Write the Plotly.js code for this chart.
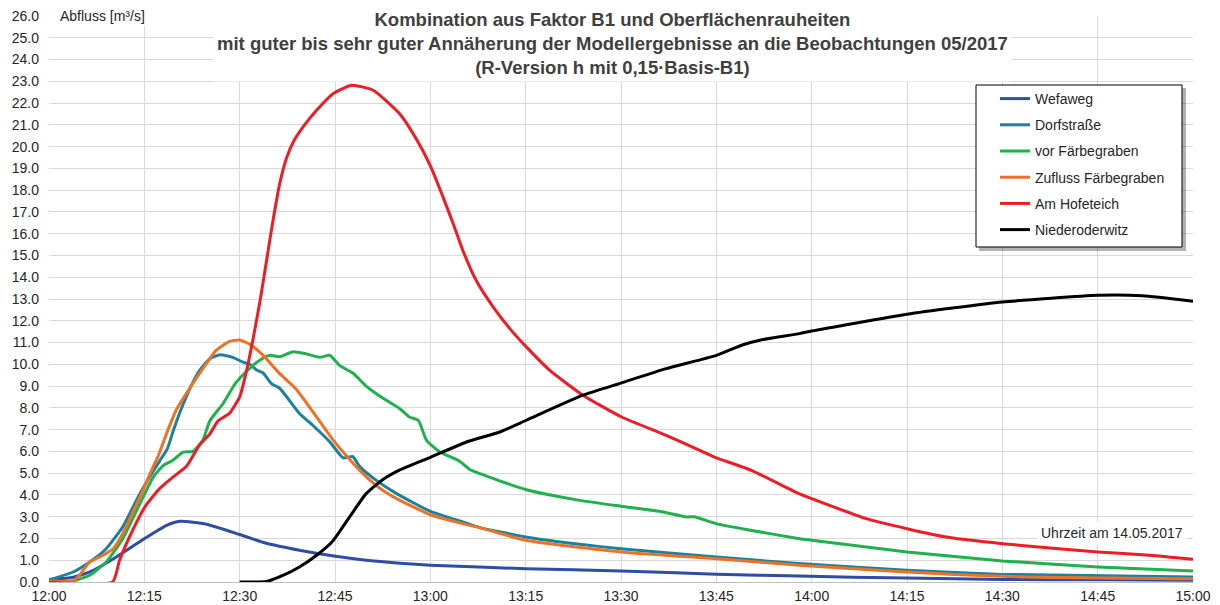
<!DOCTYPE html>
<html>
<head>
<meta charset="utf-8">
<script src="https://cdn.plot.ly/plotly-3.0.1.min.js"></script>
<style>
html,body{margin:0;padding:0;background:#ffffff;}
#chart{width:1220px;height:605px;}
</style>
</head>
<body>
<div id="chart"></div>
<script>
// ---- tick labels (minutes after 12:00) ----
const tickMinutes = [0, 15, 30, 45, 60, 75, 90, 105, 120, 135, 150, 165, 180];
const tickLabels = ["12:00", "12:15", "12:30", "12:45", "13:00", "13:15", "13:30", "13:45", "14:00", "14:15", "14:30", "14:45", "15:00"];

const seriesNames = ["Wefaweg", "Dorfstraße", "vor Färbegraben", "Zufluss Färbegraben", "Am Hofeteich", "Niederoderwitz"];
const seriesColors = ["#2f4ea3", "#1c819a", "#20b04c", "#ed7226", "#ee1c25", "#000000"];

// ---- Wefaweg ----
const wefawegT = [0, 3.8, 6.4, 10.6, 14.8, 18.5, 20.6, 24.8, 30, 34.2, 39.4, 45.1, 49.9, 55.2, 60, 75, 90, 105, 118, 135, 150, 165, 180];
const wefawegQ = [0.1, 0.22, 0.46, 1.15, 1.95, 2.6, 2.79, 2.65, 2.18, 1.78, 1.46, 1.18, 1.0, 0.86, 0.77, 0.61, 0.51, 0.36, 0.27, 0.18, 0.12, 0.1, 0.08];

// ---- Dorfstraße ----
const dorfT = [0, 3.8, 6.4, 9, 11.6, 14.3, 16.4, 17.5, 18.6, 19.5, 20.6, 21.6, 22.1, 23.7, 25.3, 26.9, 29, 30.5, 31.6, 32.6, 33.7, 35, 36.3, 39.4, 41.5, 44.2, 46.3, 47.8, 48.9, 51.5, 54.7, 59.9, 65.1, 67.8, 75, 83.5, 90, 105, 118, 135, 150, 180];
const dorfQ = [0.1, 0.46, 0.92, 1.53, 2.53, 4.06, 5.1, 5.6, 6.1, 6.9, 7.8, 8.5, 8.85, 9.72, 10.26, 10.44, 10.31, 10.1, 10.0, 9.75, 9.6, 9.11, 8.9, 7.74, 7.2, 6.43, 5.7, 5.76, 5.3, 4.67, 4.06, 3.26, 2.76, 2.5, 2.07, 1.73, 1.53, 1.15, 0.85, 0.54, 0.35, 0.23];

// ---- vor Färbegraben ----
const vorT = [0, 3.8, 6.4, 9, 11.6, 14.3, 16.4, 18, 19.5, 21.1, 22.7, 24.2, 25.3, 27.4, 29.3, 31.1, 33.1, 34.7, 36.3, 38.4, 40.5, 42.6, 44.2, 45.7, 47.8, 49.9, 52.5, 55.2, 56.7, 58.1, 59.4, 61.5, 64.6, 66.2, 69.3, 75.1, 78.3, 83.5, 90, 96.6, 100.3, 101.5, 105, 109.7, 118.1, 120, 135, 150, 165, 180];
const vorQ = [0.05, 0.05, 0.31, 0.92, 1.99, 3.6, 4.82, 5.36, 5.59, 5.97, 6.0, 6.51, 7.4, 8.2, 9.11, 9.68, 10.18, 10.41, 10.35, 10.58, 10.48, 10.32, 10.41, 9.95, 9.6, 9.0, 8.45, 7.96, 7.58, 7.43, 6.51, 5.97, 5.55, 5.17, 4.82, 4.24, 4.03, 3.75, 3.48, 3.22, 2.99, 3.0, 2.68, 2.41, 1.99, 1.92, 1.38, 0.97, 0.69, 0.51];

// ---- Zufluss Färbegraben ----
const zuflussT = [0, 3.8, 4.8, 6.4, 8.5, 10.1, 11.6, 14.3, 16.4, 17.2, 18.5, 20, 22.1, 24.2, 26.3, 28.4, 30, 31.6, 33.7, 36.3, 38.9, 42.1, 44.5, 46.8, 49.4, 52, 54.7, 59.9, 65.1, 67.8, 75, 90, 105, 118, 135, 150, 180];
const zuflussQ = [0.05, 0.05, 0.31, 0.92, 1.23, 1.53, 2.22, 3.9, 5.3, 5.8, 6.82, 7.89, 8.88, 9.8, 10.64, 11.05, 11.12, 10.92, 10.41, 9.57, 8.85, 7.58, 6.6, 5.8, 4.98, 4.32, 3.83, 3.1, 2.68, 2.5, 1.92, 1.38, 1.07, 0.77, 0.46, 0.26, 0.15];

// ---- Am Hofeteich ----
const hofT = [0, 10, 11.1, 13.2, 15.2, 17.4, 19.5, 21.6, 23.7, 25.3, 26.6, 28.4, 30, 31, 32, 33.2, 34.3, 35.3, 36.3, 37.4, 38.6, 40.1, 42.1, 44.7, 47.6, 51, 55.2, 57.8, 60.1, 62, 63.6, 65.1, 67.2, 69.9, 72.5, 75.1, 78.8, 84, 90.1, 97.1, 102.4, 105, 106.5, 110.5, 118, 120, 128.6, 135, 141.7, 150, 165, 173.2, 180];
const hofQ = [0, 0, 1.0, 2.4, 3.5, 4.29, 4.82, 5.3, 6.3, 6.8, 7.4, 7.75, 8.5, 9.6, 11.0, 12.9, 14.9, 16.7, 18.3, 19.5, 20.3, 20.95, 21.67, 22.43, 22.82, 22.59, 21.5, 20.35, 19.06, 17.68, 16.46, 15.24, 13.86, 12.63, 11.64, 10.8, 9.72, 8.58, 7.58, 6.74, 6.05, 5.7, 5.55, 5.13, 4.06, 3.83, 2.91, 2.45, 2.04, 1.76, 1.38, 1.23, 1.04];

// ---- Niederoderwitz ----
const niederT = [30, 34.2, 36.8, 39.4, 42.1, 44.7, 47.3, 49.9, 52.5, 55.2, 60.1, 65.7, 70.9, 75.1, 84, 90.1, 97.1, 105, 109.2, 112, 118.1, 120, 135, 150, 165, 172, 180];
const niederQ = [0, 0.02, 0.3, 0.69, 1.23, 1.9, 2.99, 4.06, 4.7, 5.15, 5.74, 6.43, 6.89, 7.43, 8.58, 9.15, 9.8, 10.41, 10.9, 11.12, 11.41, 11.53, 12.3, 12.86, 13.17, 13.15, 12.9];

const seriesT = [wefawegT, dorfT, vorT, zuflussT, hofT, niederT];
const seriesQ = [wefawegQ, dorfQ, vorQ, zuflussQ, hofQ, niederQ];

const traces = seriesNames.map((name, i) => ({
  type: 'scatter',
  mode: 'lines',
  name: name,
  legendgroup: 'g' + i,
  x: seriesT[i],
  y: seriesQ[i],
  line: {color: seriesColors[i], width: 3, shape: 'spline', smoothing: 0.5},
  hoverinfo: 'skip'
}));

// plot area in pixels: left 49, right 1193, top 16, bottom 582
const L = 49, R = 1193, T = 16, B = 582;
const px = v => (v - L) / (R - L);
const py = v => (B - v) / (B - T);

const FONT = 'Liberation Sans, Arial, sans-serif';

const layout = {
  width: 1220,
  height: 605,
  margin: {l: L, r: 1220 - R, t: T, b: 605 - B, pad: 0},
  paper_bgcolor: '#ffffff',
  plot_bgcolor: '#ffffff',
  font: {family: FONT, size: 14, color: '#262626'},
  showlegend: true,
  legend: {
    x: px(995), y: py(83), xanchor: 'left', yanchor: 'top',
    bgcolor: 'rgba(0,0,0,0)', borderwidth: 0,
    font: {family: FONT, size: 14, color: '#262626'},
    tracegroupgap: 5,
    itemwidth: 30
  },
  xaxis: {
    range: [0, 180],
    tickvals: tickMinutes,
    ticktext: tickLabels,
    showgrid: true,
    gridcolor: '#d9d9d9',
    gridwidth: 1,
    zeroline: false,
    showline: true,
    linecolor: '#bfbfbf',
    linewidth: 1,
    ticks: '',
    ticklabelstandoff: 1,
    tickfont: {family: FONT, size: 14, color: '#262626'},
    automargin: false,
    fixedrange: true
  },
  yaxis: {
    range: [0, 26],
    dtick: 1,
    tick0: 0,
    tickformat: '.1f',
    showgrid: true,
    gridcolor: '#d9d9d9',
    gridwidth: 1,
    zeroline: false,
    showline: false,
    ticks: '',
    ticklabelstandoff: 9,
    tickfont: {family: FONT, size: 14, color: '#262626'},
    automargin: false,
    fixedrange: true
  },
  shapes: [
    {type: 'rect', xref: 'paper', yref: 'paper', layer: 'above',
     x0: px(979), x1: px(1186), y0: py(251), y1: py(88),
     fillcolor: 'rgba(0,0,0,0.30)', line: {width: 0}},
    {type: 'rect', xref: 'paper', yref: 'paper', layer: 'above',
     x0: px(976), x1: px(1182), y0: py(247), y1: py(85),
     fillcolor: '#ffffff', line: {color: '#000000', width: 1}}
  ],
  annotations: [
    {xref: 'paper', yref: 'paper', x: px(612), y: py(43), xanchor: 'center', yanchor: 'middle',
     text: '<b>Kombination aus Faktor B1 und Oberflächenrauheiten<br>mit guter bis sehr guter Annäherung der Modellergebnisse an die Beobachtungen 05/2017<br>(R-Version h mit 0,15·Basis-B1)</b>',
     showarrow: false, align: 'center', bgcolor: '#ffffff', borderpad: 3,
     font: {family: FONT, size: 18.5, color: '#404040'}},
    {xref: 'paper', yref: 'paper', x: px(58), y: py(16), xanchor: 'left', yanchor: 'middle',
     text: 'Abfluss [m³/s]', showarrow: false, bgcolor: '#ffffff', borderpad: 1,
     font: {family: FONT, size: 14, color: '#262626'}},
    {xref: 'paper', yref: 'paper', x: px(1112), y: py(533), xanchor: 'center', yanchor: 'middle',
     text: 'Uhrzeit am 14.05.2017', showarrow: false, bgcolor: '#ffffff', borderpad: 3,
     font: {family: FONT, size: 14, color: '#262626'}}
  ]
};

Plotly.newPlot('chart', traces, layout, {staticPlot: true, displayModeBar: false});
</script>
</body>
</html>
